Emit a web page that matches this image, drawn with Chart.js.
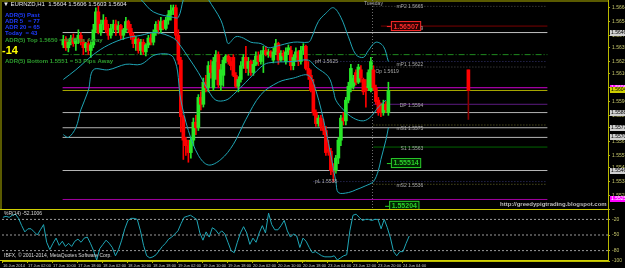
<!DOCTYPE html>
<html>
<head>
<meta charset="utf-8">
<script src="https://cdn.jsdelivr.net/npm/chart.js@4.4.0/dist/chart.umd.min.js"></script>
<style>
  html, body { margin: 0; padding: 0; background: #000; }
  #wrap { position: relative; width: 625px; height: 268px; overflow: hidden; background: #000; }
  canvas { position: absolute; left: 0; }
  #mainChart { top: 0; }
  #wprChart { top: 209px; }
</style>
</head>
<body>
<div id="wrap">
  <canvas id="mainChart" width="625" height="209"></canvas>
  <canvas id="wprChart" width="625" height="59"></canvas>
</div>
<script>
// EURNZD H1 candles, bar 0 = 16 Jun 2014 18:00
const opens = [
  1.5637,1.5641,1.5635,1.5639,1.5642,1.5638,1.5641,1.5644,1.5639,1.5635,
  1.5638,1.5633,1.5637,1.5648,1.5661,1.5646,1.5652,1.5655,1.5648,1.5644,
  1.5649,1.5652,1.5648,1.5651,1.5644,1.5648,1.5654,1.5649,1.5644,1.5638,
  1.5641,1.5633,1.5639,1.5632,1.5637,1.5642,1.5639,1.5646,1.5652,1.5648,
  1.5654,1.5649,1.5655,1.5659,1.5662,1.5664,1.5644,1.5626,1.5585,1.5568,
  1.5564,1.5559,1.5568,1.5581,1.5577,1.5599,1.5594,1.5610,1.5606,1.5622,
  1.5606,1.5625,1.5630,1.5608,1.5615,1.5626,1.5629,1.5625,1.5628,1.5615,
  1.5607,1.5612,1.5622,1.5628,1.5620,1.5625,1.5617,1.5623,1.5629,1.5625,
  1.5630,1.5633,1.5630,1.5632,1.5626,1.5632,1.5638,1.5626,1.5631,1.5625,
  1.5632,1.5633,1.5622,1.5628,1.5632,1.5625,1.5633,1.5636,1.5620,1.5615,
  1.5608,1.5588,1.5580,1.5584,1.5578,1.5575,1.5561,1.5560,1.5548,1.5546,
  1.5555,1.5568,1.5584,1.5582,1.5597,1.5606,1.5607,1.5617,1.5610,1.5619,
  1.5612,1.5607,1.5606,1.5604,1.5619,1.5606,1.5597,1.5594,1.5588,1.5594,
  1.5588
];
const highs = [
  1.5644,1.5643,1.5641,1.5644,1.5645,1.5642,1.5648,1.5646,1.5641,1.5639,
  1.5641,1.5639,1.5652,1.5664,1.5665,1.5655,1.5659,1.5657,1.5652,1.5652,
  1.5655,1.5655,1.5654,1.5652,1.5649,1.5657,1.5655,1.5652,1.5646,1.5643,
  1.5642,1.5641,1.5641,1.5638,1.5644,1.5645,1.5648,1.5654,1.5655,1.5657,
  1.5655,1.5657,1.5662,1.5666,1.5666,1.5666,1.5648,1.5628,1.5586,1.5570,
  1.5568,1.5570,1.5584,1.5586,1.5601,1.5603,1.5613,1.5615,1.5625,1.5626,
  1.5628,1.5633,1.5632,1.5623,1.5628,1.5630,1.5630,1.5628,1.5630,1.5617,
  1.5614,1.5625,1.5630,1.5636,1.5628,1.5626,1.5626,1.5632,1.5632,1.5633,
  1.5636,1.5636,1.5634,1.5633,1.5635,1.5641,1.5639,1.5633,1.5633,1.5635,
  1.5637,1.5636,1.5630,1.5635,1.5633,1.5636,1.5638,1.5637,1.5625,1.5619,
  1.5612,1.5590,1.5586,1.5586,1.5583,1.5578,1.5568,1.5562,1.5551,1.5557,
  1.5570,1.5586,1.5588,1.5599,1.5610,1.5623,1.5615,1.5619,1.5623,1.5622,
  1.5613,1.5612,1.5619,1.5628,1.5622,1.5608,1.5599,1.5595,1.5597,1.5596,
  1.5610
];
const lows = [
  1.5635,1.5633,1.5632,1.5637,1.5636,1.5633,1.5638,1.5637,1.5630,1.5632,
  1.5630,1.5628,1.5635,1.5646,1.5645,1.5644,1.5648,1.5646,1.5641,1.5642,
  1.5646,1.5644,1.5646,1.5641,1.5641,1.5646,1.5646,1.5641,1.5635,1.5633,
  1.5631,1.5630,1.5630,1.5629,1.5635,1.5637,1.5637,1.5644,1.5645,1.5646,
  1.5648,1.5648,1.5652,1.5655,1.5659,1.5641,1.5623,1.5574,1.5554,1.5557,
  1.5552,1.5555,1.5564,1.5572,1.5575,1.5590,1.5592,1.5603,1.5603,1.5613,
  1.5604,1.5612,1.5606,1.5604,1.5607,1.5624,1.5623,1.5619,1.5614,1.5606,
  1.5603,1.5610,1.5620,1.5617,1.5615,1.5615,1.5615,1.5622,1.5622,1.5623,
  1.5617,1.5629,1.5628,1.5628,1.5624,1.5630,1.5623,1.5625,1.5626,1.5623,
  1.5630,1.5619,1.5619,1.5625,1.5622,1.5623,1.5630,1.5619,1.5612,1.5603,
  1.5586,1.5578,1.5578,1.5575,1.5572,1.5557,1.5557,1.5543,1.5538,1.5544,
  1.5551,1.5564,1.5579,1.5579,1.5595,1.5603,1.5605,1.5608,1.5609,1.5610,
  1.5601,1.5592,1.5604,1.5603,1.5604,1.5594,1.5586,1.5585,1.5586,1.5588,
  1.5586
];
const closes = [
  1.5641,1.5635,1.5639,1.5642,1.5638,1.5641,1.5644,1.5639,1.5635,1.5638,
  1.5633,1.5637,1.5648,1.5661,1.5646,1.5652,1.5655,1.5648,1.5644,1.5649,
  1.5652,1.5648,1.5651,1.5644,1.5648,1.5654,1.5649,1.5644,1.5638,1.5641,
  1.5633,1.5639,1.5632,1.5637,1.5642,1.5639,1.5646,1.5652,1.5648,1.5654,
  1.5649,1.5655,1.5659,1.5662,1.5664,1.5644,1.5626,1.5585,1.5568,1.5564,
  1.5559,1.5568,1.5581,1.5577,1.5599,1.5594,1.5610,1.5606,1.5622,1.5617,
  1.5625,1.5630,1.5608,1.5619,1.5626,1.5629,1.5625,1.5622,1.5615,1.5607,
  1.5612,1.5622,1.5628,1.5620,1.5625,1.5617,1.5623,1.5629,1.5625,1.5630,
  1.5633,1.5630,1.5632,1.5629,1.5632,1.5638,1.5626,1.5631,1.5629,1.5632,
  1.5635,1.5622,1.5628,1.5632,1.5625,1.5633,1.5636,1.5620,1.5615,1.5604,
  1.5588,1.5580,1.5584,1.5578,1.5575,1.5559,1.5560,1.5546,1.5545,1.5555,
  1.5568,1.5584,1.5582,1.5597,1.5607,1.5620,1.5613,1.5610,1.5621,1.5613,
  1.5603,1.5604,1.5617,1.5625,1.5606,1.5596,1.5588,1.5588,1.5594,1.5590,
  1.5604
];

// projected daily bar drawn to the right of price
const projBar = [162];
const projRange = [[1.5583, 1.5619]];
const projBody = [[1.5604, 1.5619]];

// Bollinger bands (bar index, price)
const upperBars = [29,31,36,44,46,48,50,55,58,63,65,66,69,72,75,79,82,85,92,98,99,102,105,108,111,114,117,120,122,125,128,130];
const upperVals = [1.5673,1.5670,1.5661,1.5657,1.5657,1.5670,1.5680,1.5680,1.5670,1.5655,1.5643,1.5638,1.5643,1.5642,1.5639,1.5638,1.5635,1.5636,1.5639,1.5639,1.5641,1.5654,1.5660,1.5664,1.5657,1.5643,1.5630,1.5628,1.5633,1.5639,1.5636,1.5625];
const midBars = [0,5,12,18,25,31,37,44,47,50,54,58,61,65,68,73,79,82,92,98,101,106,108,109,112,116,120,123,126,129];
const midVals = [1.5612,1.5619,1.5630,1.5637,1.5642,1.5644,1.5646,1.5642,1.5636,1.5628,1.5617,1.5604,1.5597,1.5597,1.5601,1.5610,1.5621,1.5624,1.5625,1.5626,1.5621,1.5614,1.5604,1.5597,1.5590,1.5584,1.5582,1.5585,1.5592,1.5597];
const lowerBars = [0,2,5,7,10,12,18,25,31,37,44,47,50,54,58,63,68,73,79,86,92,98,101,105,109,110,114,117,121,124,126,127,129,130];
const lowerVals = [1.5572,1.5570,1.5577,1.5590,1.5604,1.5619,1.5619,1.5623,1.5623,1.5630,1.5628,1.5597,1.5575,1.5557,1.5550,1.5554,1.5565,1.5583,1.5601,1.5610,1.5613,1.5615,1.5604,1.5575,1.5538,1.5530,1.5530,1.5532,1.5535,1.5538,1.5546,1.5554,1.5568,1.5577];

// horizontal levels across the whole chart
const fullLevels = [1.5646, 1.5630, 1.5606, 1.5604, 1.5588, 1.5577, 1.5570, 1.5546, 1.5525];
// pivot style levels starting at a given bar
const pivotNames  = ['pH', 'pL', 'mP2', 'ADR', 'mP1', 'DP', 'mS1', 'S1', 'mS2'];
const pivotPrices = [1.5625, 1.5538, 1.5665, 1.56507, 1.5621, 1.5594, 1.5579, 1.5563, 1.5536];
const pivotStart  = [100, 100, 124, 127, 124, 124, 124, 124, 124];

const yTicks = [1.5664,1.5654,1.5644,1.5635,1.5625,1.5616,1.5606,1.5596,1.5586,1.5577,1.5567,1.5557,1.5548,1.5538,1.5528];

// Williams %R
const wprValues = [
  -16,-14,-16,-12,-10,-18,-32,-44,-38,-38,
  -44,-50,-40,-30,-64,-78,-66,-56,-70,-62,
  -72,-66,-72,-62,-58,-64,-56,-54,-66,-80,
  -98,-76,-68,-60,-66,-74,-90,-78,-60,-38,
  -22,-18,-18,-20,-42,-70,-90,-94,-92,-88,
  -80,-72,-66,-58,-54,-48,-42,-28,-16,-14,
  -12,-16,-20,-46,-60,-44,-54,-36,-40,-48,
  -42,-48,-64,-80,-84,-64,-46,-34,-46,-68,
  -56,-64,-46,-32,-46,-8,-30,-40,-40,-32,
  -22,-42,-54,-48,-52,-74,-56,-62,-74,-84,
  -82,-86,-90,-92,-92,-92,-90,-98,-94,-90,
  -88,-42,-12,-10,-16,-22,-20,-20,-22,-20,
  -20,-38,-20,-36,-56,-82,-90,-82,-82,-66,
  -52
];
const wprLevels = [-20, -50, -80];
const wprTicks = [0, -20, -50, -80, -100];

const timeLabels = ['16 Jun 2014','17 Jun 02:00','17 Jun 10:00','17 Jun 18:00','18 Jun 02:00','18 Jun 10:00',
  '18 Jun 18:00','19 Jun 02:00','19 Jun 10:00','19 Jun 18:00','20 Jun 02:00','20 Jun 10:00','20 Jun 18:00',
  '23 Jun 04:00','23 Jun 12:00','23 Jun 20:00','24 Jun 04:00'];
const labelStep = 8;
const dayStartBar = 124;

// ---- styles ----
const X_MIN = -0.3, X_MAX = 193.6;
const BULL = '#27e627', BEAR = '#ff0000', BAND = '#1fa6b6';
const AXIS = '#b8b800', TXT = 'Liberation Sans, Arial, sans-serif';

const fullStyles = [
  { color: '#c0c0c0' },
  { color: '#1f8a1f', dash: [6, 2, 1, 2] },
  { color: '#d000d0' },
  { color: '#a8a800' },
  { color: '#b4b4b4' },
  { color: '#b4b4b4' },
  { color: '#b4b4b4' },
  { color: '#b4b4b4' },
  { color: '#a000a0' }
];
const pivotStyles = [
  { color: '#343470', dash: [1, 2] },
  { color: '#343470', dash: [1, 2] },
  { color: '#505050', dash: [1, 2] },
  { color: '#7a0000' },
  { color: '#505050', dash: [1, 2] },
  { color: '#5c1c80' },
  { color: '#6a6a2a', dash: [1, 2] },
  { color: '#006400' },
  { color: '#6a6a2a', dash: [1, 2] }
];

const idx = closes.map((_, i) => i);
const isUp = i => closes[i] >= opens[i];

function hLine(y, from, style, order) {
  return {
    type: 'line', order,
    data: [{ x: from, y }, { x: X_MAX, y }],
    borderColor: style.color, borderWidth: 1, borderDash: style.dash || [],
    pointRadius: 0, tension: 0
  };
}
function bandLine(bars, vals) {
  return {
    type: 'line', order: 1,
    data: bars.map((b, k) => ({ x: b, y: vals[k] })),
    borderColor: BAND, borderWidth: 1, pointRadius: 0, tension: 0.35
  };
}
// no label padding: chart area must span the whole canvas height
const noPadY = s => { s.width = 17; s.paddingTop = 0; s.paddingBottom = 0; };

const datasets = [];
fullLevels.forEach((p, k) => datasets.push(hLine(p, X_MIN, fullStyles[k], 6)));
pivotPrices.forEach((p, k) => datasets.push(hLine(p, pivotStart[k], pivotStyles[k], 6)));
datasets.push({
  type: 'bar', order: 3, grouped: false, barThickness: 1,
  data: idx.map(i => ({ x: i, y: [lows[i], highs[i]] })),
  backgroundColor: c => isUp(c.dataIndex) ? BULL : BEAR
});
datasets.push({
  type: 'bar', order: 2, grouped: false, barThickness: 3, minBarLength: 1,
  data: idx.map(i => ({ x: i, y: [opens[i], closes[i]] })),
  backgroundColor: c => isUp(c.dataIndex) ? BULL : BEAR
});
datasets.push({
  type: 'bar', order: 3, grouped: false, barThickness: 1,
  data: projBar.map((b, k) => ({ x: b, y: projRange[k] })), backgroundColor: '#8a0000'
});
datasets.push({
  type: 'bar', order: 2, grouped: false, barThickness: 3,
  data: projBar.map((b, k) => ({ x: b, y: projBody[k] })), backgroundColor: '#ff0000'
});
datasets.push(bandLine(upperBars, upperVals));
datasets.push(bandLine(midBars, midVals));
datasets.push(bandLine(lowerBars, lowerVals));

// texts tied to the price scale
const notes = [
  { bar: 100.6, price: 1.5625, text: 'pH 1.5625', align: 'left' },
  { bar: 100.6, price: 1.5538, text: 'pL 1.5538', align: 'left' },
  { bar: 124.8, price: 1.5619, text: 'Op 1.5619', align: 'left', dy: 2 },
  { bar: 144, price: 1.5665, text: 'mP2 1.5665' },
  { bar: 144, price: 1.5649, text: '1.5649' },
  { bar: 144, price: 1.5622, text: 'mP1 1.5622', dy: -1 },
  { bar: 144, price: 1.5594, text: 'DP 1.5594', dy: 1 },
  { bar: 144, price: 1.5576, text: 'mS1 1.5575' },
  { bar: 144, price: 1.5562, text: 'S1 1.5563' },
  { bar: 144, price: 1.5535, text: 'mS2 1.5536' },
  { bar: 124, price: 1.5667, text: 'Tuesday', align: 'center' }
];
const boxes = [
  { bar: 131, price: 1.56507, text: '1.56507', fg: '#ff2a2a', bg: '#2a0000' },
  { bar: 131, price: 1.55514, text: '1.55514', fg: '#2ad02a', bg: '#002400' },
  { bar: 130.3, price: 1.55204, text: '1.55204', fg: '#2ad02a', bg: '#002400' }
];
const axisMarks = [
  { price: 1.5646, bg: '#d0d0d0', fg: '#000' },
  { price: 1.5606, bg: '#ff00ff', fg: '#fff' },
  { price: 1.5604, bg: '#d0d000', fg: '#000' },
  { price: 1.5588, bg: '#d0d0d0', fg: '#000' },
  { price: 1.5577, bg: '#d0d0d0', fg: '#000' },
  { price: 1.5570, bg: '#d0d0d0', fg: '#000' },
  { price: 1.5546, bg: '#d0d0d0', fg: '#000' },
  { price: 1.5525, bg: '#ff00ff', fg: '#fff' }
];
const infoLines = [
  { x: 3, y: 4, text: '\u25BC EURNZD,H1  1.5604 1.5606 1.5603 1.5604', color: '#e6e6e6', font: '6px ' + TXT },
  { x: 5, y: 15, text: 'ADR(5) Past', color: '#1e3cff', font: 'bold 6px ' + TXT },
  { x: 5, y: 21, text: 'ADR 5   = 77', color: '#1e3cff', font: 'bold 6px ' + TXT },
  { x: 5, y: 27, text: 'ADR 20 = 65', color: '#1e3cff', font: 'bold 6px ' + TXT },
  { x: 5, y: 33, text: 'Today  = 43', color: '#1e3cff', font: 'bold 6px ' + TXT },
  { x: 5, y: 40, text: 'ADR(5) Top 1.5650 = 46 Pips Away', color: '#2e9e2e', font: 'bold 6px ' + TXT },
  { x: 2, y: 51, text: '-14', color: '#ffff00', font: 'bold 11px ' + TXT },
  { x: 5, y: 61, text: 'ADR(5) Bottom 1.5551 = 53 Pips Away', color: '#2e9e2e', font: 'bold 6px ' + TXT },
  { x: 500, y: 204, text: 'http://greedypigtrading.blogspot.com', color: '#bdbdbd', font: 'bold 6px ' + TXT }
];

const mainDecor = {
  id: 'mainDecor',
  beforeDatasetsDraw(chart) {
    const { ctx, chartArea: a, scales: { x } } = chart;
    ctx.save();
    ctx.fillStyle = '#5a5a00';
    ctx.fillRect(0, 0, a.right, 2);
    ctx.fillRect(0, 0, 2, a.bottom);
    // day separator
    ctx.strokeStyle = '#6e6e6e';
    ctx.setLineDash([1, 2]);
    ctx.beginPath();
    const sx = Math.round(x.getPixelForValue(dayStartBar - 0.4)) + 0.5;
    ctx.moveTo(sx, a.top); ctx.lineTo(sx, a.bottom);
    ctx.stroke();
    ctx.restore();
  },
  afterDatasetsDraw(chart) {
    const { ctx, chartArea: a, scales: { x, y } } = chart;
    ctx.save();
    ctx.textBaseline = 'middle';
    ctx.font = '5px ' + TXT;
    ctx.fillStyle = '#a8a8a8';
    notes.forEach(n => {
      ctx.textAlign = n.align || 'right';
      ctx.fillText(n.text, x.getPixelForValue(n.bar), y.getPixelForValue(n.price) + (n.dy || 0));
    });
    boxes.forEach(b => {
      const px = x.getPixelForValue(b.bar), py = y.getPixelForValue(b.price);
      ctx.font = 'bold 7px ' + TXT;
      const w = ctx.measureText(b.text).width + 4;
      ctx.fillStyle = b.bg;
      ctx.fillRect(px, py - 5, w, 10);
      ctx.strokeStyle = b.fg;
      ctx.lineWidth = 1;
      ctx.strokeRect(px + 0.5, py - 4.5, w, 9);
      ctx.beginPath();
      ctx.moveTo(px - 4, py + 0.5); ctx.lineTo(px, py + 0.5); ctx.stroke();
      ctx.fillStyle = b.fg;
      ctx.textAlign = 'left';
      ctx.fillText(b.text, px + 2.5, py + 0.5);
    });
    infoLines.forEach(t => {
      ctx.font = t.font;
      ctx.fillStyle = t.color;
      ctx.textAlign = 'left';
      ctx.fillText(t.text, t.x, t.y);
    });
    ctx.restore();
  },
  afterDraw(chart) {
    const { ctx, chartArea: a, scales: { y } } = chart;
    ctx.save();
    ctx.font = '5px ' + TXT;
    ctx.textBaseline = 'middle';
    ctx.textAlign = 'left';
    axisMarks.forEach(m => {
      const py = Math.round(y.getPixelForValue(m.price));
      ctx.fillStyle = m.bg;
      ctx.fillRect(a.right + 2, py - 3, 16, 6);
      ctx.fillStyle = m.fg;
      ctx.fillText(m.price.toFixed(4), a.right + 3, py);
    });
    ctx.restore();
  }
};

new Chart(document.getElementById('mainChart'), {
  data: { datasets },
  options: {
    responsive: false, animation: false, devicePixelRatio: 1, events: [],
    layout: { padding: { left: 2, top: 0, right: 0, bottom: 0 } },
    plugins: { legend: { display: false }, tooltip: { enabled: false } },
    scales: {
      x: { type: 'linear', min: X_MIN, max: X_MAX, display: false },
      y: {
        position: 'right', min: 1.55181, max: 1.56696,
        afterBuildTicks: s => { s.ticks = yTicks.map(v => ({ value: v })); },
        afterFit: noPadY,
        ticks: { color: '#c4c46a', font: { size: 5, family: TXT }, padding: 2, callback: v => v.toFixed(4) },
        grid: { drawOnChartArea: false, color: AXIS, tickLength: 2 },
        border: { color: AXIS }
      }
    }
  },
  plugins: [mainDecor]
});

// ---- lower panel ----
const wprSets = wprLevels.map(v => ({
  type: 'line', order: 3, data: [{ x: X_MIN, y: v }, { x: X_MAX, y: v }],
  borderColor: '#9a9a9a', borderWidth: 1, borderDash: [2, 2], pointRadius: 0
}));
wprSets.push({
  type: 'line', order: 1, data: wprValues.map((v, i) => ({ x: i, y: v })),
  borderColor: BAND, borderWidth: 1, pointRadius: 0, tension: 0
});

const wprDecor = {
  id: 'wprDecor',
  afterDatasetsDraw(chart) {
    const { ctx, chartArea: a } = chart;
    ctx.save();
    ctx.strokeStyle = '#d0d000';
    ctx.lineWidth = 1;
    ctx.beginPath();
    ctx.moveTo(0, a.top + 0.5); ctx.lineTo(a.right, a.top + 0.5);
    ctx.moveTo(0, a.bottom - 0.5); ctx.lineTo(a.right, a.bottom - 0.5);
    ctx.stroke();
    ctx.font = '5px ' + TXT;
    ctx.textBaseline = 'middle';
    ctx.fillStyle = '#d8d8d8';
    ctx.fillText('%R(14) -52.1006', 4, a.top + 5);
    ctx.fillText('IBFX, \u00A9 2001-2014, MetaQuotes Software Corp.', 4, a.bottom - 5);
    ctx.restore();
  }
};

new Chart(document.getElementById('wprChart'), {
  data: { datasets: wprSets },
  options: {
    responsive: false, animation: false, devicePixelRatio: 1, events: [],
    layout: { padding: { left: 2, top: 0, right: 0, bottom: 0 } },
    plugins: { legend: { display: false }, tooltip: { enabled: false } },
    scales: {
      x: {
        type: 'linear', min: X_MIN, max: X_MAX,
        afterBuildTicks: s => { s.ticks = timeLabels.map((_, k) => ({ value: k * labelStep })); },
        afterFit: s => { s.height = 7; s.paddingLeft = 0; s.paddingRight = 0; },
        ticks: {
          color: '#c8c8c8', font: { size: 4, family: TXT }, padding: 0, align: 'start',
          maxRotation: 0, autoSkip: false, callback: v => timeLabels[v / labelStep] || ''
        },
        grid: { drawOnChartArea: false, color: AXIS, tickLength: 2 },
        border: { color: AXIS }
      },
      y: {
        position: 'right', min: -100, max: 0,
        afterBuildTicks: s => { s.ticks = wprTicks.map(v => ({ value: v })); },
        afterFit: noPadY,
        ticks: { color: '#c4c46a', font: { size: 5, family: TXT }, padding: 2 },
        grid: { drawOnChartArea: false, color: AXIS, tickLength: 2 },
        border: { color: AXIS }
      }
    }
  },
  plugins: [wprDecor]
});
</script>
</body>
</html>
